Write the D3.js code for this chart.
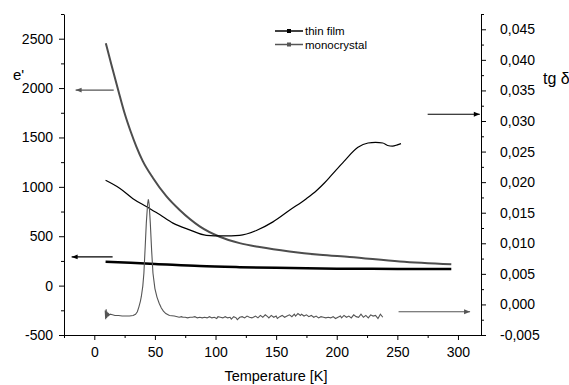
<!DOCTYPE html>
<html>
<head>
<meta charset="utf-8">
<script src="https://cdnjs.cloudflare.com/ajax/libs/d3/7.8.5/d3.min.js"></script>
<style>
body { margin: 0; background: #fff; }
svg { display: block; font-family: "Liberation Sans", Arial, sans-serif; }
</style>
</head>
<body>
<div class="svg-target"></div>
<script>
// Tick values
const leftTicks = [-500, 0, 500, 1000, 1500, 2000, 2500];
const leftMinor = [-250, 250, 750, 1250, 1750, 2250, 2750];
const bottomTicks = [0, 50, 100, 150, 200, 250, 300];
const bottomMinor = [-25, 25, 75, 125, 175, 225, 275];
const rightTicks = [-0.005, 0, 0.005, 0.01, 0.015, 0.02, 0.025, 0.03, 0.035, 0.04, 0.045];
const rightMinor = [-0.0025, 0.0025, 0.0075, 0.0125, 0.0175, 0.0225, 0.0275, 0.0325, 0.0375, 0.0425, 0.0475];

// e' of the monocrystal (left axis)
const monoEpsT = [9.5, 14, 20.9, 25, 30, 34.6, 40, 48.4, 59.4, 70.4, 86.9, 103.4, 119.9, 136.4, 161, 186, 210.6, 252, 294.5];
const monoEps = [2453, 2240, 1925, 1745, 1560, 1410, 1260, 1090, 905, 765, 600, 495, 430, 390, 345, 312, 290, 245, 216];

// e' of the thin film (left axis)
const filmEpsT = [9.3, 30, 50, 87, 120, 150, 200, 250, 294.5];
const filmEps = [242, 231, 220, 198, 187, 180, 172, 169, 168];

// tg delta of the thin film (right axis)
const filmTanT = [9.3, 20.9, 31.9, 42.9, 53.9, 64.9, 78.6, 92.4, 106.1, 119.9, 133.7, 147.4, 161, 174.9, 183.2, 190, 195.5, 206, 217.5, 225.8, 232, 238, 242, 246, 250, 253];
const filmTan = [0.0203, 0.0190, 0.0173, 0.0160, 0.0147, 0.0133, 0.0122, 0.0113, 0.0112, 0.0113, 0.0121, 0.0135, 0.0154, 0.0173, 0.0186, 0.0199, 0.0211, 0.0234, 0.0257, 0.0264, 0.0265, 0.0264, 0.0260, 0.0259, 0.0261, 0.0263];

// tg delta of the monocrystal (right axis), [T, tg]
const monoTan = [
    [9.0, -0.0010], [9.4, -0.0024], [9.8, -0.0008], [10.2, -0.0022], [10.6, -0.0012], [11.0, -0.0020],
    [11.5, -0.0014], [12, -0.0018], [13, -0.0016], [15, -0.0017], [17, -0.0018], [20, -0.0018],
    [23, -0.0019], [26, -0.0019], [29, -0.0019], [32, -0.0018], [34, -0.0016], [35.5, -0.0012],
    [36.8, -0.0004], [38, 0.0005], [38.8, 0.0013], [40, 0.0030], [40.9, 0.0051], [42, 0.0095],
    [42.9, 0.0133], [44, 0.0165], [44.6, 0.0172], [45.3, 0.0163], [46.2, 0.0133], [47.3, 0.0088],
    [48.4, 0.0051], [50, 0.0026], [51.7, 0.0012], [53.5, 0.0002], [55.3, -0.0006], [57, -0.0011],
    [59, -0.0015], [62, -0.0018], [66, -0.0019], [70, -0.0021], [72, -0.0020], [73, -0.0021],
    [75, -0.0021], [77, -0.0022], [79, -0.0021], [81, -0.0021], [83, -0.0020], [85, -0.0022],
    [87, -0.0021], [89, -0.0022], [91, -0.0021], [93, -0.0022], [95, -0.0020], [97, -0.0022],
    [99, -0.0021], [101, -0.0023], [102, -0.0020], [104, -0.0021], [106, -0.0022], [108, -0.0020],
    [110, -0.0022], [112, -0.0021], [113, -0.0024], [115, -0.0020], [117, -0.0022], [118, -0.0025],
    [120, -0.0021], [122, -0.0020], [124, -0.0022], [126, -0.0019], [128, -0.0021], [130, -0.0022],
    [132, -0.0020], [133, -0.0019], [135, -0.0022], [137, -0.0018], [139, -0.0021], [141, -0.0017],
    [143, -0.0020], [144, -0.0022], [146, -0.0018], [148, -0.0021], [150, -0.0019], [151, -0.0023],
    [153, -0.0020], [155, -0.0018], [157, -0.0021], [159, -0.0019], [161, -0.0017], [163, -0.0020],
    [165, -0.0016], [166, -0.0019], [168, -0.0015], [170, -0.0018], [171, -0.0016], [173, -0.0019],
    [175, -0.0017], [177, -0.0020], [179, -0.0018], [181, -0.0021], [183, -0.0019], [185, -0.0022],
    [187, -0.0020], [189, -0.0021], [191, -0.0022], [193, -0.0021], [195, -0.0022], [197, -0.0020],
    [199, -0.0023], [201, -0.0021], [203, -0.0019], [204, -0.0022], [206, -0.0018], [208, -0.0021],
    [210, -0.0019], [212, -0.0022], [214, -0.0017], [216, -0.0020], [218, -0.0021], [220, -0.0016],
    [222, -0.0021], [224, -0.0018], [226, -0.0022], [228, -0.0017], [230, -0.0019], [232, -0.0018],
    [234, -0.0023], [236, -0.0016], [238, -0.0021]
];

// Arrows pointing to the axis each curve belongs to: [T from, T to, value, axis, colour]
const arrows = [
    [16, -15.4, 1980, 'left', '#555'],
    [15.1, -18.7, 290, 'left', '#000'],
    [275, 318, 0.0311, 'right', '#000'],
    [251, 310, -0.0012, 'right', '#555']
];

const w = 569;
const h = 385;

const x = d3.scaleLinear().domain([-25, 319]).range([64, 481]);
const yL = d3.scaleLinear().domain([-500, 2750]).range([335, 14]);
const yR = d3.scaleLinear().domain([-0.005, 0.0475]).range([335, 14]);

const fmtL = d => String(d);
const fmtR = d => d3.format('.3f')(d).replace('.', ',').replace('\u2212', '-');

const svg = d3.select('.svg-target')
    .append('svg')
    .attr('width', w)
    .attr('height', h);

// defs for arrowheads
const defs = svg.append('defs');
['#000', '#555'].forEach((c, i) => {
    defs.append('marker')
        .attr('id', 'ah' + i)
        .attr('viewBox', '0 0 10 10')
        .attr('refX', 10).attr('refY', 5)
        .attr('markerWidth', 8).attr('markerHeight', 6)
        .attr('markerUnits', 'userSpaceOnUse')
        .attr('orient', 'auto')
        .append('path')
        .attr('d', 'M0,1 L10,5 L0,9 Z')
        .attr('fill', c);
});

const styleAxis = g => {
    g.selectAll('path, line').attr('stroke', '#000').attr('stroke-width', 1);
    g.selectAll('text').attr('fill', '#000').style('font-size', '14px');
};

// x axis
svg.append('g')
    .attr('transform', `translate(0, 335)`)
    .call(d3.axisBottom(x).tickValues(bottomTicks).tickSize(5).tickSizeOuter(0).tickPadding(7))
    .call(styleAxis);
svg.append('g')
    .attr('transform', `translate(0, 335)`)
    .call(d3.axisBottom(x).tickValues(bottomMinor).tickSize(3).tickFormat(''))
    .call(g => g.select('.domain').remove())
    .call(styleAxis);

// left y axis
svg.append('g')
    .attr('transform', `translate(64, 0)`)
    .call(d3.axisLeft(yL).tickValues(leftTicks).tickSize(5).tickSizeOuter(0).tickPadding(6).tickFormat(fmtL))
    .call(styleAxis);
svg.append('g')
    .attr('transform', `translate(64, 0)`)
    .call(d3.axisLeft(yL).tickValues(leftMinor).tickSize(3).tickFormat(''))
    .call(g => g.select('.domain').remove())
    .call(styleAxis);

// right y axis
svg.append('g')
    .attr('transform', `translate(481, 0)`)
    .call(d3.axisRight(yR).tickValues(rightTicks).tickSize(5).tickSizeOuter(0).tickPadding(14).tickFormat(fmtR))
    .call(styleAxis);
svg.append('g')
    .attr('transform', `translate(481, 0)`)
    .call(d3.axisRight(yR).tickValues(rightMinor).tickSize(3).tickFormat(''))
    .call(g => g.select('.domain').remove())
    .call(styleAxis);

// axis titles
svg.append('text')
    .attr('x', 276).attr('y', 381)
    .attr('text-anchor', 'middle')
    .style('font-size', '14.5px')
    .text('Temperature [K]');
svg.append('text')
    .attr('x', 13).attr('y', 80)
    .style('font-size', '15px')
    .text("e'");
svg.append('text')
    .attr('x', 543).attr('y', 84)
    .style('font-size', '16px')
    .text('tg \u03b4');

// curves
const lineL = d3.line().x(d => x(d[0])).y(d => yL(d[1])).curve(d3.curveMonotoneX);
const lineR = d3.line().x(d => x(d[0])).y(d => yR(d[1]));
const lineRs = d3.line().x(d => x(d[0])).y(d => yR(d[1])).curve(d3.curveMonotoneX);

svg.append('path')
    .datum(monoEpsT.map((t, i) => [t, monoEps[i]]))
    .attr('d', lineL)
    .attr('fill', 'none')
    .attr('stroke', '#4d4d4d')
    .attr('stroke-width', 2);

svg.append('path')
    .datum(filmEpsT.map((t, i) => [t, filmEps[i]]))
    .attr('d', lineL)
    .attr('fill', 'none')
    .attr('stroke', '#000')
    .attr('stroke-width', 2.5);

svg.append('path')
    .datum(filmTanT.map((t, i) => [t, filmTan[i]]))
    .attr('d', lineRs)
    .attr('fill', 'none')
    .attr('stroke', '#000')
    .attr('stroke-width', 1.2);

svg.append('path')
    .datum(monoTan)
    .attr('d', lineR)
    .attr('fill', 'none')
    .attr('stroke', '#555')
    .attr('stroke-width', 1.1);

// arrows
arrows.forEach(a => {
    const y = a[3] === 'left' ? yL(a[2]) : yR(a[2]);
    svg.append('line')
        .attr('x1', x(a[0])).attr('x2', x(a[1]))
        .attr('y1', y).attr('y2', y)
        .attr('stroke', a[4])
        .attr('stroke-width', 1.2)
        .attr('marker-end', a[4] === '#000' ? 'url(#ah0)' : 'url(#ah1)');
});

// Legend
const legendItems = [['thin film', '#000'], ['monocrystal', '#555']];
const legend = svg.append('g').attr('transform', 'translate(275, 31)');
legendItems.forEach((d, i) => {
    const g = legend.append('g').attr('transform', `translate(0, ${i * 13.5})`);
    g.append('line')
        .attr('x1', 0).attr('x2', 28)
        .attr('stroke', d[1]).attr('stroke-width', 1.5);
    g.append('rect')
        .attr('x', 12).attr('y', -2).attr('width', 4).attr('height', 4)
        .attr('fill', d[1]);
    g.append('text')
        .attr('x', 30).attr('y', 4)
        .style('font-size', '11.5px')
        .text(d[0]);
});
</script>
</body>
</html>
